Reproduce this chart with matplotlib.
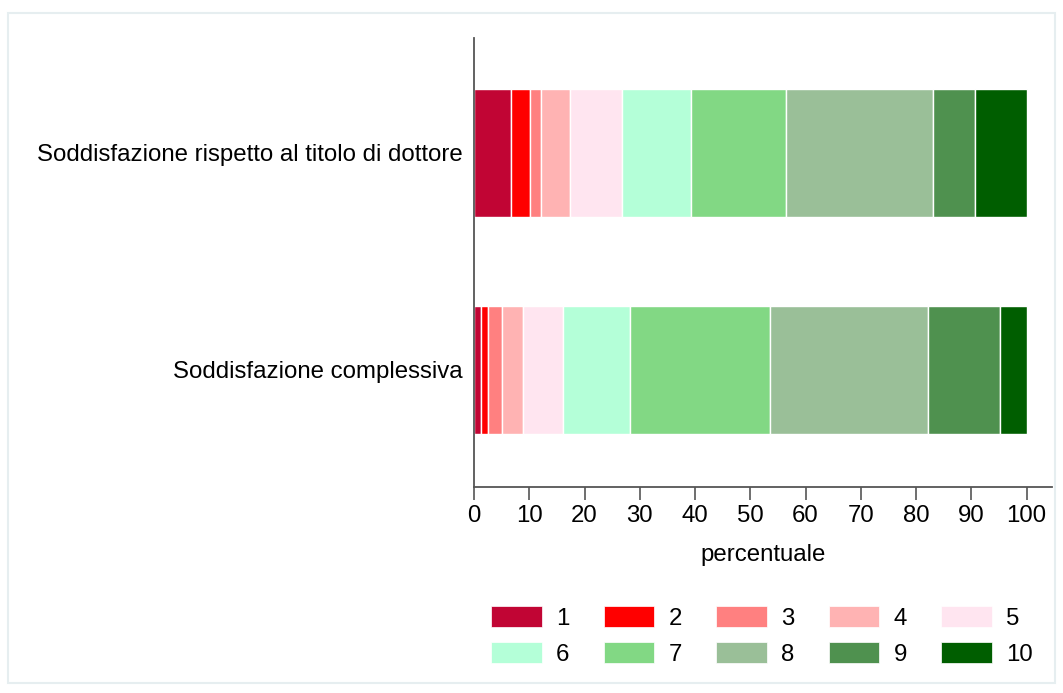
import matplotlib
matplotlib.use("Agg")
import matplotlib.pyplot as plt
from matplotlib.patches import Patch, Rectangle

plt.rcParams["font.family"] = ["Liberation Sans", "DejaVu Sans"]

# Satisfaction ratings (1-10), percentage share of each score
categories = ["Soddisfazione rispetto al titolo di dottore", "Soddisfazione complessiva"]
scores = ["1", "2", "3", "4", "5", "6", "7", "8", "9", "10"]
titolo = [6.7, 3.4, 2.1, 5.2, 9.4, 12.5, 17.2, 26.5, 7.7, 9.3]
complessiva = [1.2, 1.3, 2.5, 3.8, 7.3, 12.1, 25.3, 28.6, 13.0, 4.9]
series = [titolo, complessiva]
xticks = [0, 10, 20, 30, 40, 50, 60, 70, 80, 90, 100]

colors = ["#c10534", "#ff0000", "#ff8080", "#ffb3b3", "#ffe5f0",
          "#b4ffd8", "#82d884", "#9abf98", "#4f914f", "#005e00"]

FS = 17.25

fig = plt.figure(figsize=(10.63, 6.93), dpi=100)
fig.patches.append(Rectangle((8 / 1063, 1 - 683 / 693), 1047 / 1063, 670 / 693,
                             transform=fig.transFigure, fill=False,
                             edgecolor="#e6eef0", linewidth=1.5))

ax = fig.add_axes([474 / 1063, 1 - 487 / 693, 578 / 1063, 449 / 693])

ypos = [1, 0]
for y, vals in zip(ypos, series):
    left = 0.0
    for v, c in zip(vals, colors):
        ax.barh(y, v, left=left, height=0.59, color=c,
                edgecolor="white", linewidth=1.0)
        left += v

ax.set_xlim(0, 104.6)
ax.set_ylim(-0.541, 1.528)
ax.set_yticks(ypos)
ax.set_yticklabels(categories, fontsize=FS)
ax.tick_params(axis="y", length=0, pad=8)
ax.set_xticks(xticks)
ax.set_xticklabels([str(t) for t in xticks], fontsize=FS)
ax.tick_params(axis="x", length=9, width=1.2, color="#555555", pad=4)
ax.set_xlabel("percentuale", fontsize=FS, labelpad=12)

for s in ["top", "right"]:
    ax.spines[s].set_visible(False)
for s in ["left", "bottom"]:
    ax.spines[s].set_color("#555555")
    ax.spines[s].set_linewidth(1.3)

# legend: row-major order across 5 columns
handles = [Patch(facecolor=c, edgecolor="white", linewidth=0.5) for c in colors]
order = [0, 5, 1, 6, 2, 7, 3, 8, 4, 9]
fig.legend([handles[i] for i in order], [scores[i] for i in order],
           ncol=5, loc="upper center", bbox_to_anchor=(762 / 1063, 1 - 606 / 693),
           frameon=False, fontsize=FS, handlelength=2.12, handleheight=1.0,
           handletextpad=0.6, columnspacing=1.42, labelspacing=0.5,
           borderpad=0, borderaxespad=0)

fig.savefig("out.png", dpi=100, facecolor="white")
